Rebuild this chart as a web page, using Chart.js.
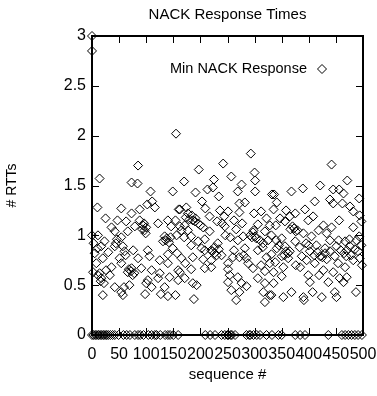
<!DOCTYPE html>
<html>
<head>
<meta charset="utf-8">
<script src="https://cdn.jsdelivr.net/npm/chart.js@4.4.1/dist/chart.umd.min.js"></script>
<style>
  html, body { margin: 0; padding: 0; background: #fff; }
  #wrap { width: 377px; height: 396px; }
</style>
</head>
<body>
<div id="wrap"><canvas id="nack"></canvas></div>
<script>
// [sequence #, RTTs], split by region
const minRespLeft = [
  [0,3.0],[0,2.85],[0,1.0],
  [14,1.57],[85,1.70],[73,1.53],[84,1.52],[108,1.44],[149,1.44],[111,1.34],[102,1.31],[10,1.28],[54,1.27],
  [88,1.26],[116,1.28],[160,1.26],[73,1.22],[25,1.17],[47,1.15],[63,1.14],[88,1.15],[140,1.15],[154,1.15],
  [36,1.08],[79,1.09],[94,1.10],[97,1.05],[122,1.12],[146,1.09],[162,1.09],[66,1.04],[11,1.00],[42,1.04],
  [134,0.99],[145,0.98],[131,0.94],[156,1.00],[23,0.94],[54,0.98],[17,0.89],[42,0.89],[10,0.87],[57,0.89],
  [76,0.85],[103,0.85],[149,0.87],[30,0.83],[106,0.79],[140,0.81],[157,0.82],[20,0.77],[51,0.77],[85,0.77],
  [125,0.75],[140,0.72],[54,0.72],[36,0.68],[73,0.67],[91,0.67],[66,0.63],[78,0.62],[26,0.65],[110,0.65],
  [159,0.65],[11,0.60],[33,0.60],[125,0.62],[143,0.58],[122,0.57],[159,0.55],[17,0.57],[22,0.52],[42,0.48],
  [59,0.48],[69,0.50],[134,0.48],[20,0.40],[57,0.40],[98,0.41],[127,0.41],[140,0.39],[154,0.40],[54,0.43],
  [110,0.48],[155,2.02],
  [93,1.06],[96,1.12],[100,1.08],[99,1.02],[136,0.95],[138,0.97],[142,0.93],[72,0.64],[75,0.60],[68,0.66],
  [100,0.52],[103,0.55],[44,0.92],[46,0.96],[14,0.62],[16,0.54],[8,0.72],[5,0.82],[3,0.92],[2,0.63],
  [60,0.84],[62,0.80]
];
const minRespMid = [
  [293,1.82],[242,1.72],[197,1.66],[300,1.63],[257,1.59],[170,1.54],[225,1.56],[301,1.55],[276,1.51],[223,1.48],
  [213,1.46],[301,1.44],[191,1.43],[269,1.44],[234,1.39],[332,1.41],[203,1.34],[282,1.33],[272,1.32],[174,1.28],
  [209,1.27],[162,1.26],[236,1.25],[251,1.24],[272,1.23],[312,1.24],[177,1.22],[217,1.19],[244,1.19],[299,1.22],
  [322,1.17],[191,1.17],[186,1.15],[231,1.14],[262,1.15],[277,1.12],[171,1.10],[196,1.12],[245,1.09],[306,1.11],
  [328,1.10],[266,1.06],[165,1.05],[177,1.05],[217,1.04],[297,1.03],[319,1.04],[246,1.00],[301,0.99],[183,0.99],
  [170,0.98],[279,0.99],[269,0.95],[208,0.96],[325,0.95],[196,0.94],[232,0.92],[316,0.92],[183,0.90],[282,0.87],
  [202,0.87],[208,0.85],[220,0.85],[226,0.82],[306,0.85],[239,0.80],[260,0.78],[272,0.78],[285,0.77],[165,0.77],
  [186,0.78],[322,0.78],[205,0.76],[220,0.75],[251,0.72],[288,0.72],[312,0.70],[172,0.72],[328,0.72],[208,0.67],
  [220,0.68],[251,0.66],[183,0.66],[297,0.67],[319,0.64],[162,0.63],[254,0.60],[306,0.57],[269,0.58],[171,0.57],
  [251,0.53],[276,0.52],[186,0.52],[319,0.52],[285,0.49],[193,0.50],[257,0.45],[272,0.43],[316,0.43],[328,0.40],
  [188,0.36],[266,0.35],[319,0.33],
  [173,1.18],[180,1.16],[184,1.20],[190,1.14],[222,0.84],[226,0.88],[230,0.80],[234,0.86],[292,1.00],[295,0.98],
  [298,1.05],[303,0.97],[200,1.10],[205,1.08],[240,1.12],[255,0.98],[262,0.85],[280,0.80],[310,0.95],[315,0.88]
];
const minRespRight = [
  [442,1.71],[471,1.55],[421,1.50],[389,1.47],[368,1.44],[445,1.46],[456,1.46],[336,1.41],[464,1.42],[493,1.37],
  [411,1.34],[439,1.36],[445,1.32],[341,1.33],[462,1.32],[476,1.29],[335,1.26],[358,1.25],[393,1.26],[375,1.22],
  [482,1.24],[408,1.19],[494,1.20],[347,1.17],[365,1.19],[497,1.14],[456,1.15],[339,1.10],[356,1.14],[399,1.15],
  [427,1.10],[442,1.08],[482,1.08],[373,1.07],[379,1.05],[418,1.05],[390,1.02],[433,1.02],[493,0.99],[331,1.00],
  [405,0.99],[475,0.96],[350,0.97],[375,0.94],[439,0.95],[467,0.94],[488,0.95],[395,0.92],[414,0.90],[356,0.89],
  [451,0.89],[341,0.87],[383,0.88],[430,0.87],[476,0.89],[365,0.84],[402,0.84],[439,0.84],[459,0.85],[491,0.84],
  [331,0.81],[350,0.79],[387,0.79],[421,0.79],[448,0.79],[469,0.79],[362,0.77],[396,0.75],[433,0.76],[482,0.75],
  [338,0.73],[376,0.70],[411,0.72],[454,0.72],[494,0.77],[384,0.68],[353,0.68],[467,0.68],[427,0.65],[335,0.63],
  [445,0.63],[399,0.60],[419,0.60],[350,0.59],[470,0.58],[457,0.57],[402,0.53],[436,0.53],[464,0.53],[335,0.52],
  [368,0.43],[353,0.38],[331,0.40],[390,0.38],[424,0.38],[448,0.43],[451,0.38],[487,0.43],[391,0.35],[407,0.43],
  [366,1.06],[370,1.09],[376,1.04],[355,0.80],[358,0.84],[362,0.82],[410,0.80],[416,0.83],[425,0.78],[430,0.82],
  [465,0.82],[470,0.85],[478,0.80],[485,0.86],[340,0.95],[345,0.90],[400,0.90],[455,0.95],[497,0.90],[498,0.70]
];
// sequence numbers that got a 0 response
const lostSeq = [0,3,6,9,12,15,18,21,24,27,30,34,38,42,49,58,64,70,79,85,89,95,104,110,116,119,126,135,140,144,150,159,
  209,218,227,239,245,250,252,256,258,264,285,290,292,298,304,310,322,332,344,350,375,384,393,436,461,467,473,479,485,491,498];

const xTicks = [0, 50, 100, 150, 200, 250, 300, 350, 400, 450, 500];
const yTicks = [0, 0.5, 1, 1.5, 2, 2.5, 3];

const points = []
  .concat(minRespLeft, minRespMid, minRespRight)
  .map(p => ({ x: p[0], y: p[1] }))
  .concat(lostSeq.map(s => ({ x: s, y: 0 })));

const FONT = 'Liberation Sans, Arial, sans-serif';
const TITLE = 'NACK Response Times';

// gnuplot style frame with inward ticks, title over the plot, legend inside it
const gnuFrame = {
  id: 'gnuFrame',
  beforeDatasetsDraw(chart) {
    const { ctx, chartArea: a, scales: { x, y } } = chart;
    ctx.save();
    ctx.strokeStyle = '#000';
    ctx.lineWidth = 1;
    ctx.beginPath();
    xTicks.forEach(v => {
      const px = Math.round(x.getPixelForValue(v)) + 0.5;
      ctx.moveTo(px, a.bottom); ctx.lineTo(px, a.bottom - 7);
      ctx.moveTo(px, a.top); ctx.lineTo(px, a.top + 7);
    });
    yTicks.forEach(v => {
      const py = Math.round(y.getPixelForValue(v)) + 0.5;
      ctx.moveTo(a.left, py); ctx.lineTo(a.left + 7, py);
      ctx.moveTo(a.right, py); ctx.lineTo(a.right - 7, py);
    });
    ctx.stroke();
    ctx.lineWidth = 2;
    ctx.strokeRect(a.left, a.top, a.right - a.left, a.bottom - a.top);

    ctx.fillStyle = '#000';
    ctx.font = '15px ' + FONT;
    ctx.textAlign = 'center';
    ctx.textBaseline = 'middle';
    ctx.fillText(TITLE, (a.left + a.right) / 2, 15);
    ctx.restore();
  },
  afterDraw(chart) {
    const { ctx, chartArea: a } = chart;
    const ds = chart.data.datasets[0];
    const ly = a.top + 33;
    ctx.save();
    ctx.fillStyle = '#000';
    ctx.font = '14.5px ' + FONT;
    ctx.textAlign = 'right';
    ctx.textBaseline = 'middle';
    ctx.fillText(ds.label, a.right - 56, ly);
    ctx.fillStyle = 'rgba(0,0,0,0)';
    ctx.strokeStyle = '#000';
    Chart.helpers.drawPoint(ctx, { pointStyle: 'rectRot', radius: 4.5, borderWidth: 1 }, a.right - 41, ly);
    ctx.restore();
  }
};

new Chart(document.getElementById('nack'), {
  type: 'scatter',
  data: {
    datasets: [{
      label: 'Min NACK Response',
      data: points,
      pointStyle: 'rectRot',
      pointRadius: 4.5,
      pointBorderWidth: 1,
      borderColor: '#000',
      backgroundColor: 'rgba(0,0,0,0)',
      clip: false
    }]
  },
  options: {
    responsive: true,
    maintainAspectRatio: false,
    animation: false,
    layout: { padding: { top: 36, right: 0, left: 0, bottom: 0 } },
    plugins: {
      legend: { display: false },
      tooltip: { enabled: false },
      title: { display: false }
    },
    scales: {
      x: {
        type: 'linear', min: 0, max: 500,
        afterFit: s => { s.height = 61; s.paddingRight = 14; s.paddingLeft = 0; },
        grid: { display: false, drawTicks: false },
        border: { display: false },
        ticks: {
          stepSize: 50, autoSkip: false, maxRotation: 0, padding: 10, color: '#000',
          font: { family: FONT, size: 16 }
        },
        title: {
          display: true, text: 'sequence #', color: '#000',
          font: { family: FONT, size: 15 }, padding: { top: 1, bottom: 12 }
        }
      },
      y: {
        min: 0, max: 3,
        afterFit: s => { s.width = 92; s.paddingTop = 0; s.paddingBottom = 0; },
        grid: { display: false, drawTicks: false },
        border: { display: false },
        ticks: {
          stepSize: 0.5, padding: 6, color: '#000',
          font: { family: FONT, size: 16 },
          callback: v => String(v)
        },
        title: {
          display: true, text: '# RTTs', color: '#000',
          font: { family: FONT, size: 14 }, padding: { top: 4, bottom: 0 }
        }
      }
    }
  },
  plugins: [gnuFrame]
});
</script>
</body>
</html>
